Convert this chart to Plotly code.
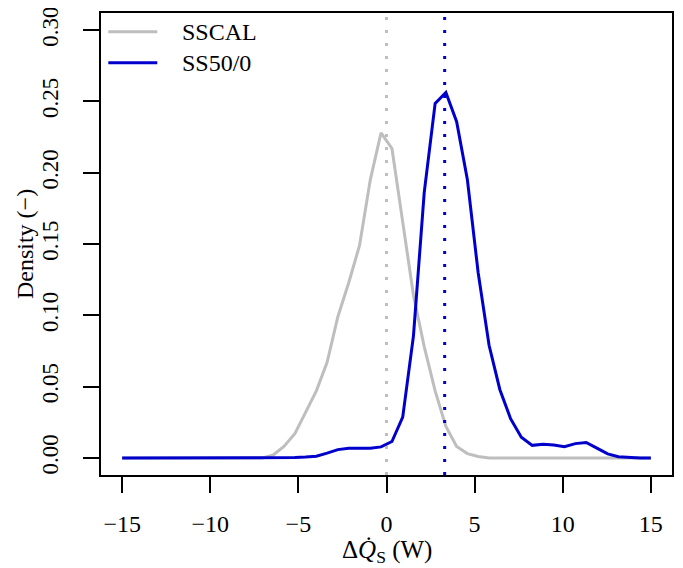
import plotly.graph_objects as go

# grid of evaluation points (W)
x_vals = [-15.00, -14.39, -13.78, -13.16, -12.55, -11.94, -11.33, -10.71, -10.10, -9.49,
          -8.88, -8.27, -7.65, -7.04, -6.43, -5.82, -5.20, -4.59, -3.98, -3.37,
          -2.76, -2.14, -1.53, -0.92, -0.31, 0.31, 0.92, 1.53, 2.14, 2.76,
          3.37, 3.98, 4.59, 5.20, 5.82, 6.43, 7.04, 7.65, 8.27, 8.88,
          9.49, 10.10, 10.71, 11.33, 11.94, 12.55, 13.16, 13.78, 14.39, 15.00]

sscal = [0, 0, 0, 0, 0, 0, 0, 0, 0, 0,
         0, 0, 0, 0, 0.002, 0.008, 0.017, 0.032, 0.047, 0.067,
         0.099, 0.123, 0.149, 0.195, 0.228, 0.217, 0.166, 0.114, 0.078, 0.047,
         0.022, 0.008, 0.003, 0.001, 0, 0, 0, 0, 0, 0,
         0, 0, 0, 0, 0, 0, 0, 0, 0, 0]

ss50 = [0, 0, 0, 0, 0, 0, 0, 0, 0, 0,
        0, 0, 0, 0, 0, 0, 0.0002, 0.0006, 0.0012, 0.0033,
        0.0058, 0.0068, 0.0066, 0.0068, 0.0077, 0.0115, 0.0286, 0.0856, 0.186, 0.2486,
        0.2563, 0.2358, 0.195, 0.130, 0.079, 0.048, 0.0275, 0.0145, 0.0088, 0.0095,
        0.0090, 0.0078, 0.0100, 0.0108, 0.0068, 0.0028, 0.0008, 0.0002, 0, 0]

series_names = ["SSCAL", "SS50/0"]
series_means = [0.0, 3.3]

x_ticks = [-15, -10, -5, 0, 5, 10, 15]
y_ticks = [0.00, 0.05, 0.10, 0.15, 0.20, 0.25, 0.30]

x_title = "Δ<i>Q̇</i><sub>S</sub> (W)"
y_title = "Density (−)"

GRAY = "#BEBEBE"
BLUE = "#0000CD"
FONT = "Liberation Serif"
FS = 24

fig = go.Figure()
for name, ys, col in [(series_names[0], sscal, GRAY), (series_names[1], ss50, BLUE)]:
    fig.add_trace(go.Scatter(x=x_vals, y=ys, mode="lines", name=name,
                             line=dict(color=col, width=3), showlegend=False))

for m, col in zip(series_means, [GRAY, BLUE]):
    fig.add_shape(type="line", xref="x", yref="paper", x0=m, x1=m, y0=0, y1=1,
                  line=dict(color=col, width=3, dash="3px,10px"))

# manual legend (R style)
ly = [0.9595, 0.8924]
for name, col, yy in zip(series_names, [GRAY, BLUE], ly):
    fig.add_shape(type="line", xref="paper", yref="paper", x0=0.0128, x1=0.0986,
                  y0=yy, y1=yy, line=dict(color=col, width=3))
    fig.add_annotation(xref="paper", yref="paper", x=0.139, y=yy, text=name,
                       showarrow=False, xanchor="left", yanchor="middle",
                       font=dict(family=FONT, size=FS, color="black"))

# axis titles
fig.add_annotation(xref="x", yref="paper", x=0, y=-0.165, text=x_title,
                   showarrow=False, xanchor="center", yanchor="middle",
                   font=dict(family=FONT, size=25, color="black"))
fig.add_annotation(xref="paper", yref="paper", x=-0.133, y=0.5, text=y_title,
                   showarrow=False, xanchor="center", yanchor="middle", textangle=-90,
                   font=dict(family=FONT, size=FS, color="black"))

# page body adds an 8px offset, so the figure is sized to fit the window
fig.update_layout(
    width=675, height=560,
    margin=dict(l=93, r=11, t=5, b=93),
    paper_bgcolor="white", plot_bgcolor="white",
    font=dict(family=FONT, size=FS, color="black"),
    showlegend=False,
)
fig.update_xaxes(range=[-16.2, 16.2], tickvals=x_ticks, ticks="outside", ticklen=16,
                 tickwidth=1.5, tickcolor="black", showline=True, linecolor="black",
                 linewidth=1.8, mirror=True, showgrid=False, zeroline=False,
                 ticklabelstandoff=10, automargin=False, ticklabeloverflow="allow")
fig.update_yaxes(range=[-0.012, 0.312], tickvals=y_ticks, tickformat=".2f",
                 ticks="outside", ticklen=16, tickwidth=1.5, tickcolor="black",
                 showline=True, linecolor="black", linewidth=1.8, mirror=True,
                 showgrid=False, zeroline=False, tickangle=-90,
                 tickfont=dict(family=FONT, size=23, color="black"),
                 ticklabelstandoff=16, automargin=False, ticklabeloverflow="allow")

fig.write_html("out.html")
